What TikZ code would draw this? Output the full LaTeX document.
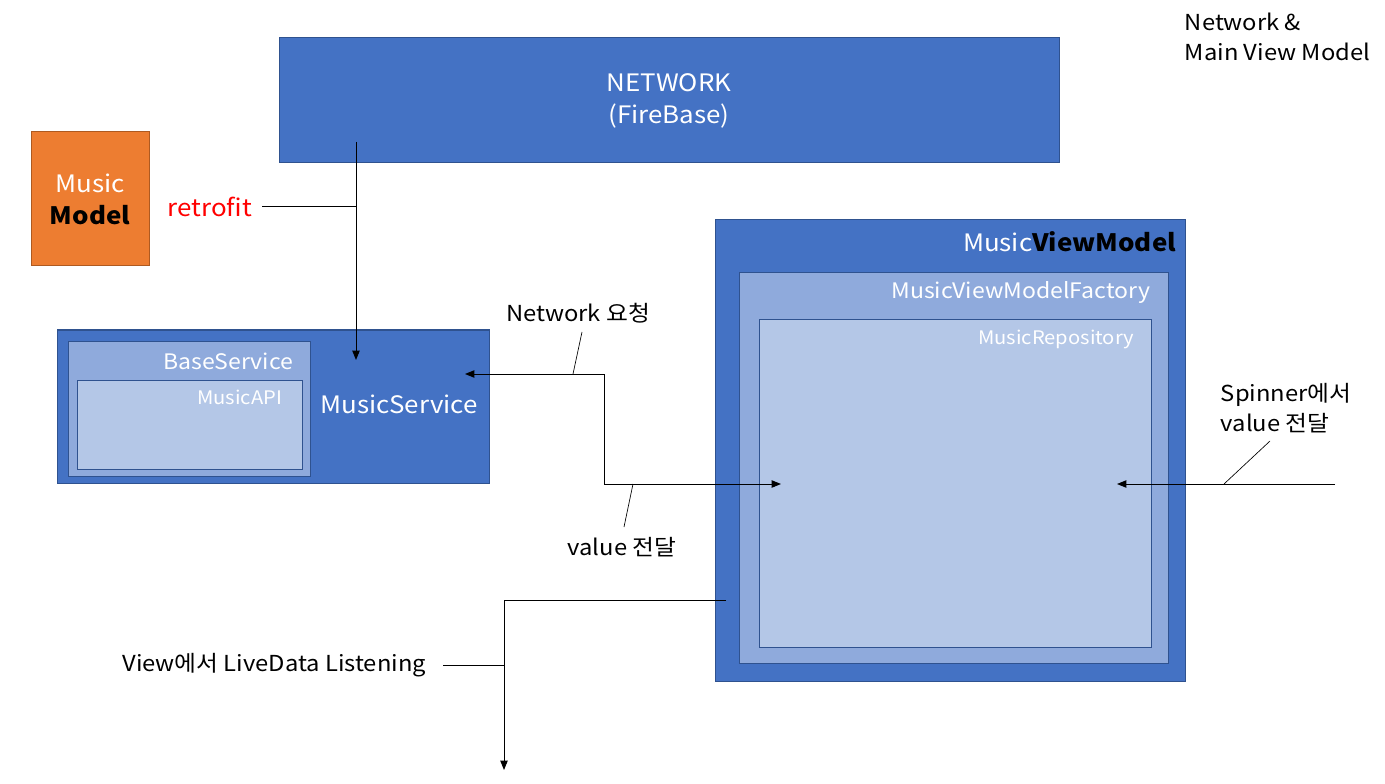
\documentclass[tikz,border=0pt]{standalone}
\usepackage{fontspec}
\setmainfont[FakeStretch=1.08]{Noto Sans CJK KR}
\usetikzlibrary{arrows.meta}
\usetikzlibrary{fit}
\usetikzlibrary{positioning}

\definecolor{boxblue}{HTML}{4472C4}
\definecolor{edgeblue}{HTML}{2F528F}
\definecolor{midblue}{HTML}{8FAADC}
\definecolor{lightblue}{HTML}{B4C7E7}
\definecolor{boxorange}{HTML}{ED7D31}
\definecolor{edgeorange}{HTML}{AE5A21}

\begin{document}
\begin{tikzpicture}[x=0.75pt, y=-0.75pt, line width=0.75pt,
	>={Triangle[length=7pt, width=5.5pt]},
	box/.style={draw=edgeblue, fill=boxblue, inner sep=0pt},
	midbox/.style={box, fill=midblue},
	lightbox/.style={box, fill=lightblue},
	model/.style={draw=edgeorange, fill=boxorange, inner sep=0pt},
	big/.style={text=white, font=\fontsize{18}{24}\selectfont, align=center},
	mid/.style={text=white, font=\fontsize{16}{21}\selectfont, anchor=east},
	small/.style={text=white, font=\fontsize{14}{18}\selectfont, anchor=east},
	note/.style={font=\fontsize{16.5}{22.5}\selectfont, align=left},
	callout/.style={line width=0.5pt},
]
\useasboundingbox (0,0) rectangle (1385,784);
% network side
\node [box, fit={(279,38) (1059,163)}] (NET) {};
\node [big] (NETtxt) at (NET.center) {NETWORK\\(FireBase)};
\node [model, fit={(31,132) (149,266)}] (MM) {};
\node [big] (MMtxt) at (MM.center) {Music\\\textbf{\color{black}Model}};
\node [text=red, font=\fontsize{18}{24}\selectfont] (RF) at (210,207) {retrofit};
%
\node [box, fit={(57,330) (489,483)}] (MS) {};
\node [midbox, fit={(68,341) (310,476)}] (BS) {};
\node [lightbox, fit={(77,380) (302,469)}] (API) {};
\node [big] (MStxt) at (399,404) {MusicService};
\node [mid] (BStxt) at (298,361) {BaseService};
\node [small] (APItxt) at (287,397) {MusicAPI};
% view model side
\node [box, fit={(715,220) (1185,681)}] (VM) {};
\node [midbox, fit={(739,273) (1168,663)}] (FAC) {};
\node [lightbox, fit={(759,320) (1151,647)}] (REPO) {};
\node [big, anchor=east] (VMtxt) at (1181,242) {Music\textbf{\color{black}ViewModel}};
\node [mid] (FACtxt) at (1155,293) {MusicViewModelFactory};
\node [small] (REPOtxt) at (1139,339) {MusicRepository};
% labels
\node [note] (REQ) at (578,313) {Network 요청};
\node [note] (VAL) at (622,547) {value 전달};
\node [note, anchor=west] (SPIN) at (1216,408) {Spinner에서\\value 전달};
\node [note, anchor=east] (LIVE) at (431,665) {View에서 LiveData Listening};
\node [note, anchor=west] (HEAD) at (1180,37) {Network \&\\Main View Model};
% points
\coordinate (netout) at (356,142);
\coordinate (msin) at (356,360);
\coordinate (rfjoin) at (356,207);
\coordinate (msreq) at (465,374);
\coordinate (bend) at (604,374);
\coordinate (repoin) at (781,484);
\coordinate (spinout) at (1335,484);
\coordinate (repoR) at (1117,484);
\coordinate (vmout) at (726,600);
\coordinate (corner) at (504,600);
\coordinate (viewin) at (504,770);
%
\draw [->] (netout) -- (msin);
\draw (262,207) -- (rfjoin);
\draw [<->] (msreq) -- (bend) |- (repoin);
\draw [->] (spinout) -- (repoR);
\draw [->] (vmout) -- (corner) -- (viewin);
\draw (443,665) -- (corner |- LIVE.east);
% callouts
\draw [callout] (582,332) -- (573,374);
\draw [callout] (624,527) -- (633,484);
\draw [callout] (1270,441) -- (1224,484);
\end{tikzpicture}
\end{document}
